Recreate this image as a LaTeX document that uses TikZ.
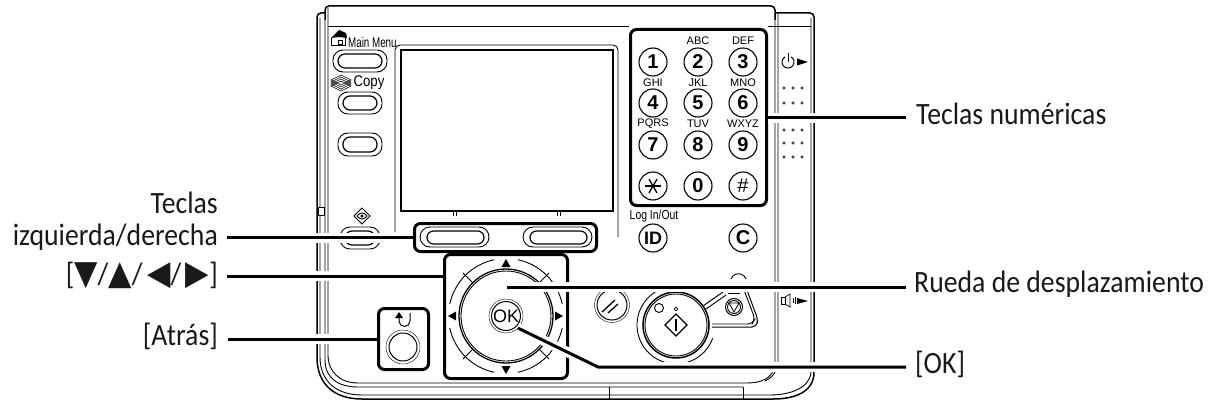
\documentclass[tikz,border=0pt]{standalone}
\usepackage{fontspec}
\setmainfont{Carlito}
\newfontfamily\panelfont{Liberation Sans}
\newfontfamily\symfont{DejaVu Sans}
\usetikzlibrary{shapes, arrows, calc, positioning}
\tikzstyle{wall} = [line width=1.5, rounded corners=4]
\tikzstyle{thinwall} = [line width=0.9]
\tikzstyle{callbox} = [draw=black, line width=3, rounded corners=6, inner sep=0, fill=none]
\tikzstyle{leader} = [line width=3, line join=round, preaction={draw=white, line width=10}]
\tikzstyle{label} = [inner sep=0, text=black!90, xscale=0.895, font=\fontsize{31}{33}\selectfont]
\tikzstyle{keyround} = [circle, draw=black, line width=1.1, minimum size=28, inner sep=0, font=\panelfont\fontsize{20}{20}\selectfont\bfseries]
\tikzstyle{small} = [inner sep=0, font=\panelfont\fontsize{11}{11}\selectfont]
\newcommand{\tri}[1]{{\symfont\fontsize{34}{34}\selectfont #1}}
\begin{document}
\begin{tikzpicture}[x=1pt,y=-1pt]
\useasboundingbox (0,0) rectangle (1215,404);
% housing
\draw[wall] (325,13) -- (317,13) -- (317,357);
\draw[wall] (325,20) -- (325,6) -- (775,6) -- (775,20);
\draw[wall] (775,13) -- (814,13) -- (814,372);
\draw[line width=1.5] (317,357) .. controls (317,385) and (335,399) .. (362,399) -- (773,399) .. controls (795,399) and (814,392) .. (814,372);
\draw[thinwall] (320,18) -- (320,357) .. controls (320,382) and (337,395) .. (362,395) -- (770,395) .. controls (790,395) and (810,388) .. (811,372) -- (811,18);
\draw[thinwall] (328,8) -- (328,355) .. controls (328,372) and (340,383) .. (358,383) -- (747,383) .. controls (762,383) and (773,378) .. (775,365) -- (775,13);
\draw[thinwall] (325,20) -- (325,360) .. controls (325,378) and (338,387) .. (358,387) -- (743,387);
\draw[thinwall] (778,13) -- (778,362) .. controls (777,372) and (772,378) .. (765,381);
\draw[thinwall] (328,26) -- (629,26);
\draw[thinwall] (768,26) -- (811,26);
\draw[thinwall] (609,387) -- (609,399);
\draw[thinwall] (743,387) -- (743,399);
\draw[thinwall, fill=white] (318,207) rectangle (324,215);
% screen
\draw[line width=1.2] (401,50) rectangle (613,211);
\draw[thinwall, rounded corners=5] (395,232) -- (395,45) -- (618,45) -- (618,237);
\foreach \x in {453,456,557,560} \draw[thinwall] (\x,211) -- (\x,216);
% left keys
\foreach \xa/\ya/\xb/\yb in {333/50/387/72, 338/92/382/114, 338/133/382/156, 340/227/380/249}
  {\draw[thinwall, rounded corners=10] (\xa,\ya) rectangle (\xb,\yb);
   \draw[line width=1.2, rounded corners=7] ($(\xa,\ya)+(5,4)$) rectangle ($(\xb,\yb)+(-5,-4)$);}
\foreach \xa in {420,523}
  {\draw[thinwall, rounded corners=10] (\xa,227) rectangle ($(\xa,247)+(69,0)$);
   \draw[line width=1.2, rounded corners=6.5] ($(\xa,231)+(7,0)$) rectangle ($(\xa,244)+(64,0)$);}
\fill (331,38) -- (339,30) -- (346,33) -- (347,38) -- (339,37) -- cycle;
\draw[line width=1] (331,38) -- (331,46) -- (345,46) -- (345,36);
\draw[line width=0.8] (338,40) rectangle (342,44);
\node[small, font=\panelfont\fontsize{14}{15}\selectfont, xscale=0.7, anchor=west] (mainmenu) at (348,42) {Main Menu};
\node[small, font=\panelfont\fontsize{15.5}{16}\selectfont, xscale=0.85] (copytext) at (369,83) {Copy};
\foreach \d in {0,2,4,6}
  \draw[line width=0.6] (331,{80+\d}) -- (341,{75+\d}) -- (351,{80+\d}) -- (341,{85+\d}) -- cycle;
\draw[thinwall] (362,208) -- (370,216) -- (362,224) -- (354,216) -- cycle;
\draw[thinwall] (357,216) .. controls (360,212) and (364,212) .. (367,216) .. controls (364,220) and (360,220) .. (357,216);
\fill (362,216) circle (1.6);
% number keys
\foreach \k/\x/\y in {1/653/62, 2/698/62, 3/743/62, 4/653/103, 5/698/103, 6/743/103, 7/653/145, 8/698/145, 9/743/145, 0/698/186}
  \node[keyround] (key\k) at (\x,\y) {\k};
\node[keyround] (keystar) at (653,186) {};
\foreach \a in {0,60,120} \draw[line width=1.3] ($(keystar)+(\a:8)$) -- ($(keystar)+(\a+180:8)$);
\node[keyround] (keyhash) at (743,186) {\fontsize{20}{20}\selectfont\mdseries\#};
\foreach \k/\x/\y/\s in {2/698/41/ABC, 3/743/41/DEF, 4/653/83/GHI, 5/698/83/JKL, 6/743/83/MNO, 7/653/124/PQRS, 8/698/124/TUV, 9/743/124/WXYZ}
  \node[small] (letters\k) at (\x,\y) {\s};
\node[small, font=\panelfont\fontsize{13}{13}\selectfont, xscale=0.8] (logtext) at (654,216) {Log In/Out};
\node[keyround] (keyid) at (653,238) {\fontsize{18}{18}\selectfont ID};
\node[keyround] (keyc) at (743,238) {\fontsize{20}{20}\selectfont C};
% side column
\draw[line width=1] (791,56.8) arc[start angle=-60, end angle=240, radius=6];
\draw[line width=1] (788,53) -- (788,62);
\fill (797,58.5) -- (808,62) -- (797,65.5) -- cycle;
\foreach \y in {88,103,130,143,157} \foreach \x in {784,793,802} \draw[line width=0.6] (\x,\y) circle (1.3);
\draw[line width=0.7] (781,297) rectangle (785,304);
\draw[line width=0.7] (785,297) -- (790,294) -- (790,307) -- (785,304);
\draw[line width=0.6] (793,298) -- (793,303);
\draw[line width=0.6] (795.5,297) -- (795.5,304);
\fill (797,298) -- (808,301) -- (797,304) -- cycle;
% wheel
\node[circle, draw=black, line width=1.3, minimum size=94, inner sep=0] (wheel) at (506,316) {};
\draw[thinwall] (wheel) circle (45);
\foreach \a in {0,90,180,270}
  {\draw[thinwall] ($(wheel)+(\a+12:57.5)$) arc[start angle={\a+12}, end angle={\a+78}, radius=57.5];
   \draw[line width=1] ($(wheel)+(\a+45:47)$) -- ($(wheel)+(\a+45:61)$);}
\fill (506,259) -- (510.5,267) -- (501.5,267) -- cycle;
\fill (506,374) -- (510.5,366) -- (501.5,366) -- cycle;
\fill (448,316) -- (456,311.5) -- (456,320.5) -- cycle;
\fill (563,316) -- (555,311.5) -- (555,320.5) -- cycle;
\node[circle, draw=black, thin, fill=white, minimum size=34, inner sep=0] (okkey) at (506,316) {};
\node[circle, draw=black, line width=1, minimum size=28, inner sep=0, font=\panelfont\fontsize{18}{18}\selectfont] (oktext) at (506,316) {OK};
% back
\node[circle, draw=black, thin, minimum size=34, inner sep=0] (backkey) at (403,347) {};
\node[circle, draw=black, line width=1, minimum size=28, inner sep=0] (backin) at (403,347) {};
\draw[line width=1] (410,313) -- (410,321) arc[start angle=0, end angle=180, radius=5.5] -- (399,318);
\fill (399,312) -- (403,318) -- (395,318) -- cycle;
% clear
\node[circle, draw=black, thin, minimum size=35, inner sep=0] (clearkey) at (612,305) {};
\node[circle, draw=black, line width=1, minimum size=30, inner sep=0] (clearin) at (612,305) {};
\draw[line width=1.3] (602,312) -- (615,300);
\draw[line width=1.3] (608,313) -- (618,304);
% stop
\draw[line width=1] (703,306) -- (723,292);
\draw[thinwall] (706,309) -- (726,295);
\draw[line width=1, rounded corners=4] (712,327) -- (756,327) -- (758,320) -- (747,290);
\draw[thinwall, rounded corners=4] (712,324) -- (752,324) -- (755,319) -- (744,290);
\draw[line width=0.9] (728,293) -- (740,293);
\draw[thinwall] (731,279) arc[start angle=200, end angle=340, radius=8];
\node[circle, draw=black, line width=1, minimum size=17, inner sep=0] (stopkey) at (734,307) {};
\draw[thinwall] (stopkey) circle (6.5);
\draw[line width=0.8] (729,303) -- (739,303) -- (734,312) -- cycle;
% start
\node[circle, draw=black, line width=1.5, fill=white, minimum size=66, inner sep=0] (startkey) at (676,325) {};
\draw[thinwall] (startkey) circle (31);
\draw[thinwall] ($(startkey)+(20:39)$) arc[start angle=20, end angle=300, radius=39];
\draw[line width=0.9] (659,308) circle (4.5);
\draw[line width=0.7] (676,309) circle (1.8);
\draw[line width=1.1] (676,314) -- (687,325) -- (676,336) -- (665,325) -- cycle;
\draw[line width=2] (676,319) -- (676,331);
% callout boxes
\node[callbox, minimum width=136, minimum height=176] (keypad) at (698.5,117.5) {};
\node[callbox, minimum width=182, minimum height=28] (softbox) at (505.5,237.5) {};
\node[callbox, minimum width=123, minimum height=124] (arrowbox) at (506,316.5) {};
\node[callbox, minimum width=50, minimum height=61] (backbox) at (403.5,339) {};
% labels
\node[label, anchor=base west] (numlabel) at (916,124) {Teclas numéricas};
\node[label, anchor=base west] (wheellabel) at (914,292) {Rueda de desplazamiento};
\node[label, anchor=base west] (oklabel) at (915,373) {[OK]};
\node[label, anchor=base east] (softtop) at (218,213) {Teclas};
\node[label, anchor=base east] (softlabel) at (218,245) {izquierda/derecha};
\node[label, anchor=base east] (arrowlabel) at (218,284) {[\tri{▼}/\tri{▲}/\,\tri{◀}/\,\tri{▶}]};
\node[label, anchor=base east] (backlabel) at (218,345) {[Atrás]};
% connectors
\coordinate (softfree) at (227,237.5);
\coordinate (arrowfree) at (227,276);
\coordinate (backfree) at (228,339);
\coordinate (numfree) at (906,117.5);
\coordinate (wheelstart) at (507,287);
\coordinate (wheelfree) at (906,287);
\coordinate (okbend) at (598,367);
\coordinate (okfree) at (906,367);
\draw[leader] (softfree) -- (softbox.west);
\draw[leader] (arrowfree) -- (arrowbox.west |- arrowfree);
\draw[leader] (backfree) -- (backbox.west);
\draw[leader] (keypad.east) -- (numfree);
\draw[leader] (wheelstart) -- (wheelfree);
\draw[leader] (okkey.-45) -- (okbend) -- (okfree);
\end{tikzpicture}
\end{document}
